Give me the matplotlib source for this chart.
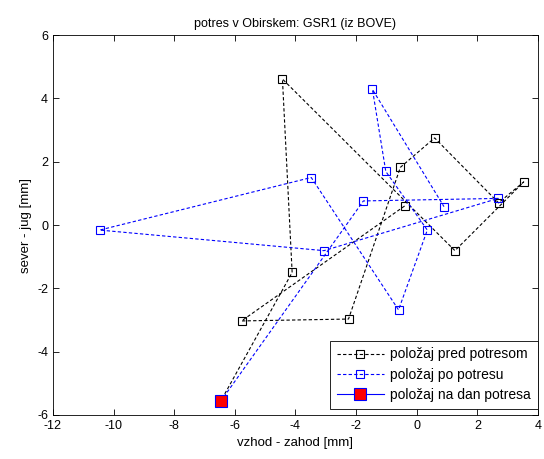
import matplotlib
matplotlib.use("Agg")
from matplotlib import pyplot as plt

# položaji pred potresom (vzhod-zahod, sever-jug) [mm]
pred_x = [-0.40, -5.78, -2.25, -0.54, 0.59, 2.70, 3.53, 1.26, -4.43, -4.11, -6.47]
pred_y = [0.60, -3.03, -2.97, 1.82, 2.75, 0.70, 1.36, -0.81, 4.61, -1.50, -5.57]

# položaji po potresu
po_x = [-6.47, -1.76, 2.69, -3.06, -10.46, -3.48, -0.60, 0.35, -1.02, -1.46, 0.90]
po_y = [-5.57, 0.76, 0.84, -0.81, -0.16, 1.50, -2.68, -0.16, 1.69, 4.28, 0.58]

# položaj na dan potresa
dan_x = [-6.47]
dan_y = [-5.57]

plt.rcParams['font.family'] = ['Liberation Sans', 'DejaVu Sans']
plt.rcParams['font.size'] = 9
plt.rcParams['axes.unicode_minus'] = False

fig = plt.figure(figsize=(5.44, 4.59), dpi=100)
ax = fig.add_axes([0.0974, 0.0959, 0.8915, 0.8278])

ax.plot(pred_x, pred_y, '--s', color='k', lw=0.8, ms=6, mfc='none', mew=0.8,
        dashes=(3, 2), label='položaj pred potresom')
ax.plot(po_x, po_y, '--s', color='b', lw=0.8, ms=6, mfc='none', mew=0.8,
        dashes=(3, 2), label='položaj po potresu')
ax.plot(dan_x, dan_y, '-s', color='b', lw=0.8, ms=9, mfc='r', mec='b', mew=0.8,
        label='položaj na dan potresa')

ax.set_xlim(-12, 4)
ax.set_ylim(-6, 6)
ax.set_xticks(range(-12, 5, 2))
ax.set_yticks(range(-6, 7, 2))
ax.tick_params(direction='in', top=True, right=True, length=4, width=0.6)
for s in ax.spines.values():
    s.set_linewidth(0.6)

ax.set_title("potres v Obirskem: GSR1 (iz BOVE)", fontsize=9)
ax.set_xlabel("vzhod - zahod [mm]", fontsize=9.5)
ax.set_ylabel("sever - jug [mm]", fontsize=9.5)

leg = ax.legend(loc='lower right', bbox_to_anchor=(1.0, 0.016), borderaxespad=0,
                fancybox=False, framealpha=1, edgecolor='k',
                handlelength=3.4, handletextpad=0.45, borderpad=0.5,
                labelspacing=0.45, fontsize=10)
leg.get_frame().set_linewidth(0.6)

plt.savefig("out.png", dpi=100)
